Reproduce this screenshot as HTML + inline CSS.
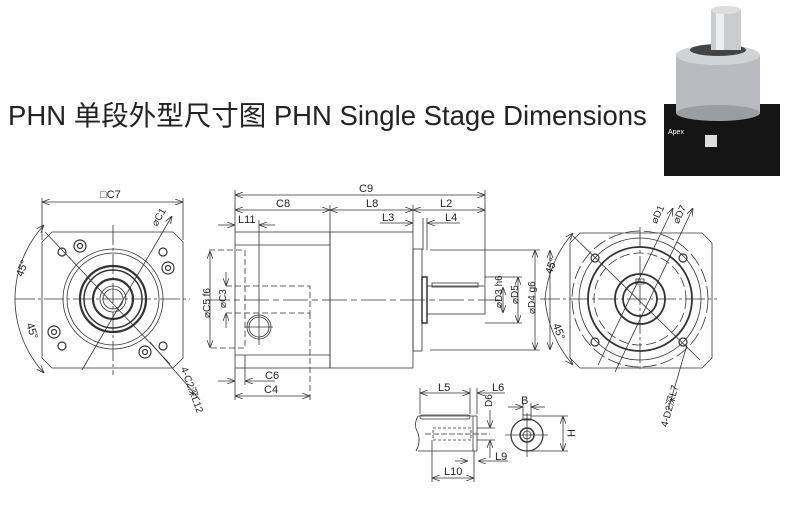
<!DOCTYPE html>
<html><head><meta charset="utf-8"><style>
body{margin:0;background:#fff}
svg{display:block}
text{font-family:"Liberation Sans",sans-serif;fill:#222}
</style></head><body>
<svg width="804" height="523" viewBox="0 0 804 523" xmlns="http://www.w3.org/2000/svg">
<defs>
<marker id="a" markerWidth="8" markerHeight="6" refX="8" refY="3" orient="auto-start-reverse" markerUnits="userSpaceOnUse"><path d="M0,0 L8,3 L0,6" fill="none" stroke="#333" stroke-width="0.8"/></marker>
</defs>
<text x="8" y="125" font-size="27.5" style='font-family:"Liberation Sans","Noto Sans CJK SC",sans-serif' fill="#222">PHN 单段外型尺寸图 PHN Single Stage Dimensions</text>

<g>
<rect x="664" y="104" width="116" height="72" fill="#151515"/>
<rect x="676" y="55" width="84" height="58" fill="#b8bcc0"/>
<ellipse cx="718" cy="113" rx="42" ry="8" fill="#9a9ea2"/>
<ellipse cx="718" cy="55" rx="42" ry="10" fill="#d0d3d6"/>
<ellipse cx="718" cy="50" rx="28" ry="6" fill="#444"/>
<rect x="711" y="10" width="30" height="40" fill="#c9cdd0"/>
<rect x="716" y="10" width="8" height="40" fill="#eee"/>
<ellipse cx="726" cy="10" rx="15" ry="4" fill="#ddd"/>
<text x="668" y="134" font-size="7" style="fill:#fff">Apex</text>
<rect x="705" y="135" width="12" height="12" fill="#ddd"/>
</g>

<g stroke="#333" stroke-width="0.8" fill="none">
<path d="M52,232 L173,232 L183,242 L183,358 L173,368 L52,368 L42,358 L42,242 Z"/>
<line x1="42" y1="202" x2="183" y2="202" marker-start="url(#a)" marker-end="url(#a)"/>
<line x1="42" y1="198" x2="42" y2="240"/><line x1="183" y1="198" x2="183" y2="240"/>
<circle cx="113" cy="299" r="50"/><circle cx="113" cy="299" r="46"/>
<circle cx="113" cy="299" r="33" stroke-width="2.2"/><circle cx="113" cy="299" r="29" stroke-width="1.5"/>
<circle cx="113" cy="299" r="20" stroke-width="2.2"/><circle cx="113" cy="299" r="13"/><circle cx="113" cy="299" r="10"/>
<line x1="113" y1="225" x2="113" y2="375" stroke-dasharray="20,3,3,3"/>
<line x1="15" y1="299" x2="190" y2="299" stroke-dasharray="20,3,3,3"/>
<g stroke-width="1.2">
<circle cx="62" cy="252" r="4"/><circle cx="163" cy="252" r="4"/><circle cx="62" cy="346" r="4"/><circle cx="163" cy="346" r="4"/>
<circle cx="80" cy="246" r="6"/><circle cx="80" cy="246" r="2.5"/>
<circle cx="168" cy="268" r="6"/><circle cx="168" cy="268" r="2.5"/>
<circle cx="54" cy="332" r="6"/><circle cx="54" cy="332" r="2.5"/>
<circle cx="145" cy="352" r="6"/><circle cx="145" cy="352" r="2.5"/>
</g>
<line x1="45" y1="232" x2="170" y2="364"/>
<line x1="172" y1="216" x2="82" y2="370" marker-start="url(#a)"/>
<line x1="150" y1="342" x2="200" y2="400"/>
<path d="M44,225 A110,110 0 0 0 15,299 A110,110 0 0 0 44,373" marker-start="url(#a)" marker-end="url(#a)"/>

<line x1="235" y1="195" x2="485" y2="195" marker-start="url(#a)" marker-end="url(#a)"/>
<line x1="235" y1="210" x2="330" y2="210" marker-start="url(#a)" marker-end="url(#a)"/>
<line x1="330" y1="210" x2="413" y2="210" marker-start="url(#a)" marker-end="url(#a)"/>
<line x1="413" y1="210" x2="485" y2="210" marker-start="url(#a)" marker-end="url(#a)"/>
<line x1="235" y1="190" x2="235" y2="232"/><line x1="485" y1="190" x2="485" y2="285"/>
<line x1="330" y1="205" x2="330" y2="232"/><line x1="413" y1="205" x2="413" y2="232"/>
<line x1="380" y1="223" x2="413" y2="223" marker-end="url(#a)"/>
<line x1="460" y1="223" x2="427" y2="223" marker-end="url(#a)"/>
<line x1="427" y1="218" x2="427" y2="250"/><line x1="423" y1="218" x2="423" y2="250"/>
<line x1="218" y1="225" x2="235" y2="225" marker-end="url(#a)"/>
<line x1="275" y1="225" x2="259" y2="225" marker-end="url(#a)"/>
<rect x="235" y="232" width="95" height="136"/>
<line x1="235" y1="245" x2="330" y2="245"/><line x1="235" y1="355" x2="330" y2="355"/>
<rect x="330" y="232" width="83" height="136"/>
<rect x="413" y="249" width="9" height="102"/>
<rect x="422" y="277" width="5" height="46" stroke-width="1.5"/>
<rect x="427" y="286" width="58" height="28"/>
<rect x="432" y="283" width="46" height="4"/>
<g stroke-dasharray="6,3">
<path d="M209,250 L245,250 L245,348 L209,348"/>
<path d="M226,286 L310,286 L310,313 L226,313"/>
<line x1="310" y1="313" x2="310" y2="400"/>
</g>
<line x1="259" y1="220" x2="259" y2="345"/>
<circle cx="259" cy="327" r="12"/><circle cx="259" cy="327" r="10"/>
<line x1="245" y1="327" x2="273" y2="327"/>
<line x1="205" y1="300" x2="500" y2="300" stroke-dasharray="25,4,6,4"/>
<line x1="210" y1="251" x2="210" y2="348" marker-start="url(#a)" marker-end="url(#a)"/>
<line x1="226" y1="272" x2="226" y2="286" marker-end="url(#a)"/>
<line x1="226" y1="328" x2="226" y2="313" marker-end="url(#a)"/>
<line x1="430" y1="250" x2="540" y2="250"/><line x1="430" y1="350" x2="540" y2="350"/>
<line x1="485" y1="277" x2="522" y2="277"/><line x1="485" y1="323" x2="522" y2="323"/>
<line x1="503" y1="287" x2="503" y2="313" marker-start="url(#a)" marker-end="url(#a)"/>
<line x1="518" y1="277" x2="518" y2="323" marker-start="url(#a)" marker-end="url(#a)"/>
<line x1="535" y1="250" x2="535" y2="350" marker-start="url(#a)" marker-end="url(#a)"/>
<line x1="235" y1="368" x2="235" y2="400"/><line x1="245" y1="355" x2="245" y2="385"/>
<line x1="218" y1="381" x2="235" y2="381" marker-end="url(#a)"/>
<line x1="275" y1="381" x2="245" y2="381" marker-end="url(#a)"/>
<line x1="235" y1="396" x2="310" y2="396" marker-start="url(#a)" marker-end="url(#a)"/>

<path d="M580,233 L702,233 L712,243 L712,358 L702,368 L580,368 L570,358 L570,243 Z"/>
<circle cx="640" cy="299" r="68" stroke-dasharray="14,4"/>
<circle cx="640" cy="299" r="61"/>
<circle cx="640" cy="299" r="52" stroke-width="1.8"/>
<circle cx="640" cy="299" r="46" stroke-dasharray="10,4"/>
<circle cx="640" cy="299" r="25" stroke-width="1.8"/>
<circle cx="640" cy="299" r="17" stroke-width="1.8"/>
<rect x="636" y="279" width="8" height="5"/>
<line x1="640" y1="227" x2="640" y2="372" stroke-dasharray="20,3,3,3"/>
<line x1="540" y1="299" x2="717" y2="299" stroke-dasharray="20,3,3,3"/>
<g stroke-width="1.2"><circle cx="595" cy="258" r="4"/><circle cx="683" cy="258" r="4"/><circle cx="595" cy="342" r="4"/><circle cx="683" cy="342" r="4"/></g>
<line x1="573" y1="236" x2="700" y2="360"/>
<line x1="673" y1="208" x2="598" y2="365" marker-start="url(#a)"/>
<line x1="693" y1="208" x2="615" y2="372" marker-start="url(#a)"/>
<line x1="687" y1="345" x2="668" y2="410"/>
<path d="M573,233 A115,115 0 0 0 545,299 A115,115 0 0 0 573,365" marker-start="url(#a)" marker-end="url(#a)"/>
<line x1="550" y1="250" x2="550" y2="350" marker-start="url(#a)" marker-end="url(#a)"/>

<line x1="418" y1="416" x2="477" y2="416"/><line x1="418" y1="451" x2="477" y2="451"/>
<path d="M418,416 Q413,425 418,433 Q421,442 416,451"/>
<line x1="477" y1="416" x2="477" y2="451"/><line x1="473" y1="416" x2="473" y2="451"/>
<rect x="420" y="415" width="50" height="4" rx="2"/>
<g stroke-dasharray="3,2"><rect x="433" y="428" width="38" height="12"/></g>
<line x1="425" y1="434" x2="490" y2="434" stroke-dasharray="6,2"/>
<line x1="420" y1="388" x2="420" y2="414"/><line x1="470" y1="388" x2="470" y2="414"/><line x1="477" y1="388" x2="477" y2="414"/>
<line x1="420" y1="393" x2="470" y2="393" marker-start="url(#a)" marker-end="url(#a)"/>
<line x1="477" y1="393" x2="505" y2="393" marker-start="url(#a)"/>
<line x1="490" y1="410" x2="490" y2="428" marker-end="url(#a)"/>
<line x1="490" y1="458" x2="490" y2="440" marker-end="url(#a)"/>
<line x1="477" y1="440" x2="495" y2="440"/><line x1="477" y1="428" x2="495" y2="428"/>
<line x1="432" y1="440" x2="432" y2="482"/><line x1="474" y1="451" x2="474" y2="482"/>
<line x1="432" y1="478" x2="474" y2="478" marker-start="url(#a)" marker-end="url(#a)"/>
<line x1="455" y1="461" x2="468" y2="461" marker-end="url(#a)"/>
<line x1="508" y1="461" x2="478" y2="461" marker-end="url(#a)"/>
<circle cx="527" cy="435" r="16" stroke-width="1.2"/>
<circle cx="527" cy="435" r="7" stroke-width="1.5"/><circle cx="527" cy="435" r="4"/>
<rect x="523" y="415" width="8" height="5"/>
<line x1="527" y1="413" x2="527" y2="457"/><line x1="505" y1="435" x2="548" y2="435"/>
<line x1="531" y1="416" x2="568" y2="416"/><line x1="527" y1="451" x2="568" y2="451"/>
<line x1="563" y1="416" x2="563" y2="451" marker-start="url(#a)" marker-end="url(#a)"/>
<line x1="508" y1="407" x2="523" y2="407" marker-end="url(#a)"/>
<line x1="545" y1="407" x2="531" y2="407" marker-end="url(#a)"/>
<line x1="523" y1="403" x2="523" y2="415"/><line x1="531" y1="403" x2="531" y2="415"/>
</g>

<g font-size="11">
<text x="100" y="198">□C7</text>
<text x="150" y="225" font-size="10" transform="rotate(-60 155 220)">⌀C1</text>
<text x="14" y="275" transform="rotate(-70 20 270)">45°</text>
<text x="22" y="330" transform="rotate(70 28 330)">45°</text>
<text x="178" y="372" font-size="10" transform="rotate(70 182 372)">4-C2深L12</text>
<text x="359" y="192">C9</text>
<text x="276" y="207">C8</text>
<text x="366" y="207">L8</text>
<text x="440" y="207">L2</text>
<text x="382" y="221">L3</text>
<text x="445" y="221">L4</text>
<text x="238" y="223">L11</text>
<text x="206" y="322" font-size="10" transform="rotate(-90 206 318)">⌀C5 f6</text>
<text x="222" y="312" font-size="10" transform="rotate(-90 222 308)">⌀C3</text>
<text x="498" y="312" font-size="10" transform="rotate(-90 498 308)">⌀D3 h6</text>
<text x="514" y="308" font-size="10" transform="rotate(-90 514 304)">⌀D5</text>
<text x="531" y="318" font-size="10" transform="rotate(-90 531 314)">⌀D4 g6</text>
<text x="265" y="379">C6</text>
<text x="264" y="393">C4</text>
<text x="650" y="222" font-size="10" transform="rotate(-65 655 218)">⌀D1</text>
<text x="672" y="222" font-size="10" transform="rotate(-65 677 218)">⌀D7</text>
<text x="544" y="272" transform="rotate(-70 550 268)">45°</text>
<text x="552" y="330" transform="rotate(70 556 328)">45°</text>
<text x="660" y="430" font-size="10" transform="rotate(-75 662 424)">4-D2深L7</text>
<text x="438" y="391">L5</text>
<text x="492" y="391">L6</text>
<text x="485" y="410" font-size="10" transform="rotate(-90 487 405)">D6</text>
<text x="495" y="460">L9</text>
<text x="444" y="475">L10</text>
<text x="521" y="404">B</text>
<text x="567" y="437" transform="rotate(-90 571 433)">H</text>
</g>
</svg>
</body></html>
